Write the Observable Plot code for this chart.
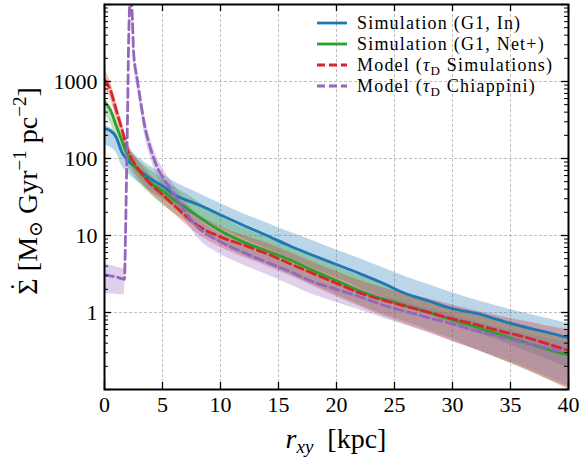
<!DOCTYPE html>
<html>
<head>
<meta charset="utf-8">
<script src="https://cdn.jsdelivr.net/npm/d3@7"></script>
<script src="https://cdn.jsdelivr.net/npm/@observablehq/plot@0.6"></script>
<style>
  body { margin: 0; background: white; }
</style>
</head>
<body>
<div id="chart"></div>
<script>
// ---- Data ----
const rGrid = [0, 0.5, 1, 1.5, 2, 2.5, 3, 4, 5, 6, 7, 8, 10, 12, 14, 16, 18, 20, 22, 24, 26, 28, 30, 32, 34, 36, 38, 40];

const blueLine = [245, 230, 190, 120, 95, 81, 70, 54, 44, 34, 29, 25.5, 18.5, 13.5, 10, 7.3, 5.5, 4.2, 3.2, 2.4, 1.75, 1.4, 1.12, 0.98, 0.8, 0.66, 0.56, 0.47];
const blueHi   = [270, 250, 210, 150, 130, 115, 100, 78, 63, 50, 42, 36, 26, 19, 14.5, 11, 8.5, 6.5, 5, 3.8, 2.9, 2.3, 1.8, 1.45, 1.2, 1.0, 0.85, 0.72];
const blueLo   = [150, 140, 120, 80, 65, 55, 48, 37, 30, 24, 20, 17.5, 12.5, 9, 6.7, 4.9, 3.7, 2.8, 2.1, 1.6, 1.2, 0.92, 0.7, 0.55, 0.43, 0.33, 0.25, 0.19];

const greenLine = [540, 430, 270, 170, 110, 85, 68, 48, 38, 29, 23, 18, 11.5, 8.2, 6.3, 4.8, 3.5, 2.6, 1.9, 1.5, 1.22, 1.0, 0.8, 0.65, 0.52, 0.42, 0.34, 0.28];
const greenHi   = [600, 470, 310, 200, 140, 110, 92, 70, 55, 43, 35, 28, 17.5, 12.5, 9.5, 7.2, 5.4, 4.0, 3.0, 2.3, 1.8, 1.45, 1.15, 0.95, 0.78, 0.64, 0.55, 0.48];
const greenLo   = [380, 290, 190, 120, 80, 60, 48, 34, 25, 19.5, 15.5, 12.5, 7.8, 5.5, 4.2, 3.1, 2.3, 1.7, 1.25, 0.95, 0.75, 0.58, 0.45, 0.33, 0.25, 0.19, 0.14, 0.105];

const redLine = [1050, 780, 430, 240, 130, 90, 70, 46, 34, 24.5, 18, 13.6, 9.6, 7.5, 5.8, 4.3, 3.2, 2.4, 1.8, 1.45, 1.2, 1.0, 0.83, 0.7, 0.58, 0.49, 0.4, 0.32];
const redHi   = [1450, 1000, 560, 310, 165, 115, 90, 60, 44, 33, 25, 19, 13, 10, 8, 6, 4.5, 3.4, 2.6, 2.1, 1.75, 1.5, 1.25, 1.05, 0.9, 0.78, 0.68, 0.6];
const redLo   = [800, 600, 330, 185, 100, 70, 54, 35, 26, 19, 14, 10.5, 7, 5.2, 4.0, 3.0, 2.2, 1.6, 1.2, 0.9, 0.7, 0.55, 0.42, 0.33, 0.25, 0.19, 0.14, 0.1];

const rPurple    = [0, 0.5, 1, 1.5, 1.72, 1.81, 1.9, 2.0, 2.07, 2.25, 2.41, 2.5, 2.84, 3.1, 3.5, 4.0, 4.5, 5, 6, 7, 8, 10, 12, 14, 16, 18, 20, 22, 24, 26, 28, 30, 32, 34, 36, 38, 40];
const purpleLine = [3.1, 3.0, 2.9, 2.75, 2.7, 10, 60, 500, 2700, 14000, 6200, 2500, 1030, 570, 250, 130, 80, 58, 34, 20, 13, 8.3, 6.0, 4.5, 3.4, 2.5, 2.0, 1.6, 1.25, 1.03, 0.85, 0.71, 0.58, 0.49, 0.41, 0.35, 0.30];
const purpleHi   = [4.3, 4.1, 3.9, 3.75, 3.7, 13, 80, 650, 3500, 18000, 8000, 3300, 1350, 750, 330, 175, 105, 75, 45, 28, 17.5, 10.5, 7.8, 5.9, 4.4, 3.3, 2.6, 2.1, 1.65, 1.35, 1.12, 0.93, 0.76, 0.64, 0.54, 0.46, 0.4];
const purpleLo   = [1.75, 1.75, 1.72, 1.7, 1.7, 7.5, 45, 380, 2000, 10000, 4700, 1900, 780, 430, 190, 100, 60, 43, 26, 15.5, 9.5, 5.7, 4.1, 3.1, 2.3, 1.7, 1.35, 1.08, 0.85, 0.68, 0.54, 0.42, 0.33, 0.26, 0.2, 0.15, 0.11];

const xTicks = [0, 5, 10, 15, 20, 25, 30, 35, 40];
const yMajor = [0.1, 1, 10, 100, 1000, 10000];
const yLabelled = [1, 10, 100, 1000];
const yMinor = [];
for (const d of [0.1, 1, 10, 100, 1000]) for (let m = 2; m <= 9; m++) yMinor.push(+(d * m).toPrecision(3));

const colors = {blue: "#1f77b4", green: "#2ca02c", red: "#d62728", purple: "#9467bd"};

// ---- Tables ----
function table(rs, v, lo, hi) { return rs.map((r, i) => ({r, v: v[i], lo: lo[i], hi: hi[i]})); }
const blueT = table(rGrid, blueLine, blueLo, blueHi);
const greenT = table(rGrid, greenLine, greenLo, greenHi);
const redT = table(rGrid, redLine, redLo, redHi);
const purpleT = table(rPurple, purpleLine, purpleLo, purpleHi);

const W = 585, H = 462, mL = 104, mR = 17, mT = 4, mB = 73;
const pw = W - mL - mR, ph = H - mT - mB;
const serif = "'Liberation Serif', 'DejaVu Serif', serif";

const band = (T, c) => Plot.areaY(T, {x: "r", y1: "lo", y2: "hi", fill: c, fillOpacity: 0.3, curve: "monotone-x", clip: true});
const line = (T, c, dash) => Plot.lineY(T, {x: "r", y: "v", stroke: c, strokeWidth: 2.8, strokeDasharray: dash, curve: "monotone-x", clip: true});

const svg = Plot.plot({
  width: W, height: H,
  marginLeft: mL, marginRight: mR, marginTop: mT, marginBottom: mB,
  style: {fontFamily: serif, background: "white", color: "black"},
  x: {domain: [0, 40]},
  y: {type: "log", domain: [0.1, 10000]},
  marks: [
    Plot.gridX(xTicks, {stroke: "#b0b0b0", strokeOpacity: 1, strokeDasharray: "3,2", strokeWidth: 0.8}),
    Plot.gridY(yMajor, {stroke: "#b0b0b0", strokeOpacity: 1, strokeDasharray: "3,2", strokeWidth: 0.8}),
    band(blueT, colors.blue),
    band(greenT, colors.green),
    band(redT, colors.red),
    band(purpleT, colors.purple),
    line(blueT, colors.blue),
    line(greenT, colors.green),
    line(redT, colors.red, "9,4.5"),
    line(purpleT, colors.purple, "9,4.5"),
    // inward ticks
    Plot.tickX(xTicks, {x: d => d, insetTop: ph - 7, stroke: "black", strokeWidth: 1.3}),
    Plot.tickX(xTicks, {x: d => d, insetBottom: ph - 7, stroke: "black", strokeWidth: 1.3}),
    Plot.tickY(yMajor, {y: d => d, insetRight: pw - 7, stroke: "black", strokeWidth: 1.3}),
    Plot.tickY(yMajor, {y: d => d, insetLeft: pw - 7, stroke: "black", strokeWidth: 1.3}),
    Plot.tickY(yMinor, {y: d => d, insetRight: pw - 4, stroke: "black", strokeWidth: 1}),
    Plot.tickY(yMinor, {y: d => d, insetLeft: pw - 4, stroke: "black", strokeWidth: 1}),
    Plot.axisX(xTicks, {anchor: "bottom", tickSize: 0, tickPadding: 7, fontSize: 22, label: null, tickFormat: d => String(d)}),
    Plot.axisY(yLabelled, {anchor: "left", tickSize: 0, tickPadding: 7, fontSize: 22, label: null, tickFormat: d => String(d)}),
    Plot.frame({stroke: "black", strokeWidth: 2})
  ]
});

const s = d3.select(svg);
const xs = svg.scale("x");
// x label
const xl = s.append("text")
  .attr("x", xs.apply(20)).attr("y", 448)
  .attr("text-anchor", "middle").attr("font-size", 28).attr("font-family", serif).attr("fill", "black");
xl.append("tspan").attr("font-style", "italic").text("r");
xl.append("tspan").attr("font-style", "italic").attr("font-size", 19).attr("dy", 5).text("xy");
xl.append("tspan").attr("dy", -5).text("\u2002[kpc]");

// y label
const yl = s.append("text")
  .attr("transform", `translate(37, 191) rotate(-90)`)
  .attr("text-anchor", "middle").attr("font-size", 28).attr("font-family", serif).attr("fill", "black");
yl.append("tspan").text("\u03A3");
yl.append("tspan").attr("dx", -13).attr("dy", -8).text("\u02D9");
yl.append("tspan").attr("dx", 4).attr("dy", 8).text(" [M");
yl.append("tspan").attr("font-size", 19).attr("dy", 5).text("\u2299");
yl.append("tspan").attr("dy", -5).text(" Gyr");
yl.append("tspan").attr("font-size", 19).attr("dy", -11).text("\u22121");
yl.append("tspan").attr("dy", 11).text(" pc");
yl.append("tspan").attr("font-size", 19).attr("dy", -11).text("\u22122");
yl.append("tspan").attr("dy", 11).text("]");

// legend
const legendItems = [
  {label: ["Simulation (G1, In)"], color: colors.blue, dash: null},
  {label: ["Simulation (G1, Net+)"], color: colors.green, dash: null},
  {label: ["Model (", "\u03C4", "D", " Simulations)"], color: colors.red, dash: "8,4"},
  {label: ["Model (", "\u03C4", "D", " Chiappini)"], color: colors.purple, dash: "8,4"}
];
const rowsY = [23, 44, 65, 86];
const lg = s.append("g").attr("font-family", serif).attr("font-size", 18).attr("letter-spacing", 1.2).attr("fill", "black").attr("text-anchor", "start");
legendItems.forEach((it, i) => {
  const y = rowsY[i];
  lg.append("line").attr("x1", 317).attr("x2", 347).attr("y1", y).attr("y2", y)
    .attr("stroke", it.color).attr("stroke-width", 2.8).attr("stroke-dasharray", it.dash);
  const t = lg.append("text").attr("x", 357).attr("y", y + 6).attr("text-anchor", "start");
  if (it.label.length === 1) t.text(it.label[0]);
  else {
    t.append("tspan").text(it.label[0]);
    t.append("tspan").attr("font-style", "italic").text(it.label[1]);
    t.append("tspan").attr("font-size", 13).attr("dy", 4).text(it.label[2]);
    t.append("tspan").attr("dy", -4).text(it.label[3]);
  }
});

document.getElementById("chart").appendChild(svg);
</script>
</body>
</html>
